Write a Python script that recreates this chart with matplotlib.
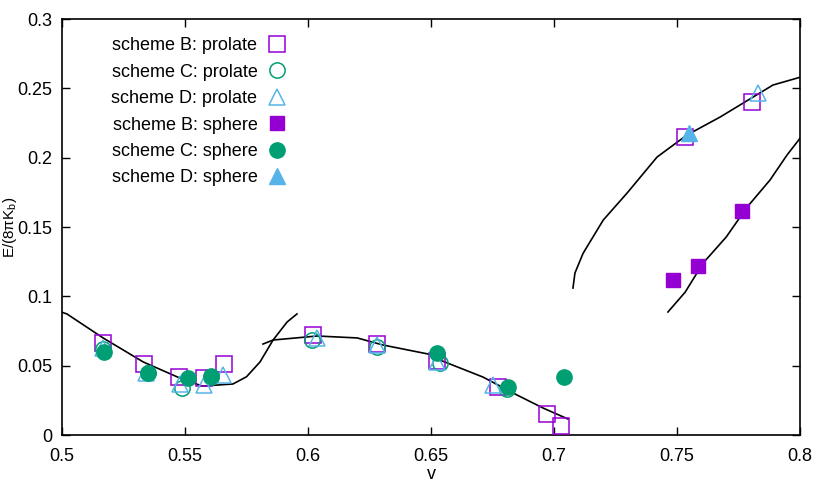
import matplotlib
matplotlib.use('Agg')
import matplotlib.pyplot as plt
from matplotlib.ticker import FormatStrFormatter

plt.rcParams['font.family'] = ['Liberation Sans', 'DejaVu Sans']
plt.rcParams['mathtext.fontset'] = 'custom'
plt.rcParams['mathtext.rm'] = 'Liberation Sans'
plt.rcParams['mathtext.it'] = 'Liberation Sans'

purple = '#9400D3'
green = '#009E73'
blue = '#56B4E9'

# scheme B prolate (open squares)
bp_x = [0.5167, 0.5333, 0.5476, 0.5577, 0.5659, 0.602, 0.628, 0.6524, 0.6772, 0.697, 0.7028, 0.7533, 0.7805]
bp_y = [0.0663, 0.0512, 0.0418, 0.041, 0.0512, 0.072, 0.0656, 0.0534, 0.0346, 0.0151, 0.0065, 0.2149, 0.240]
# scheme C prolate (open circles)
cp_x = [0.5167, 0.535, 0.5488, 0.5606, 0.6016, 0.628, 0.6537, 0.681]
cp_y = [0.062, 0.045, 0.0339, 0.042, 0.0685, 0.0635, 0.0519, 0.0332]
# scheme D prolate (open triangles)
dp_x = [0.5167, 0.534, 0.548, 0.5577, 0.5654, 0.6037, 0.628, 0.6524, 0.6752, 0.783]
dp_y = [0.063, 0.045, 0.0365, 0.036, 0.043, 0.070, 0.065, 0.053, 0.036, 0.2466]
# scheme B sphere (filled squares)
bs_x = [0.7484, 0.7585, 0.7764]
bs_y = [0.1118, 0.1219, 0.1615]
# scheme C sphere (filled circles)
cs_x = [0.5171, 0.535, 0.5512, 0.5606, 0.6524, 0.6813, 0.7041]
cs_y = [0.0599, 0.0447, 0.0411, 0.0425, 0.0591, 0.0346, 0.0418]
# scheme D sphere (filled triangles)
ds_x = [0.7549]
ds_y = [0.2178]

# black curves
c1_x = [0.5, 0.502, 0.5167, 0.533, 0.548, 0.557, 0.5695, 0.575, 0.5805, 0.5858, 0.5915, 0.5955]
c1_y = [0.0885, 0.0873, 0.070, 0.0527, 0.041, 0.0353, 0.0368, 0.042, 0.0527, 0.0685, 0.0815, 0.0873]
c2_x = [0.5817, 0.5858, 0.6037, 0.62, 0.6305, 0.6508, 0.6537, 0.6711, 0.685, 0.6955, 0.7057]
c2_y = [0.0656, 0.0685, 0.0714, 0.070, 0.0649, 0.0577, 0.054, 0.0418, 0.0288, 0.0195, 0.0115]
c3_x = [0.7077, 0.7085, 0.7118, 0.72, 0.7297, 0.7419, 0.754, 0.7675, 0.781, 0.789, 0.8]
c3_y = [0.106, 0.1168, 0.131, 0.155, 0.1745, 0.2005, 0.2163, 0.2293, 0.2438, 0.2524, 0.258]
c4_x = [0.7463, 0.7533, 0.7606, 0.770, 0.7785, 0.7878, 0.7947, 0.8]
c4_y = [0.0887, 0.103, 0.124, 0.1428, 0.1644, 0.1839, 0.2019, 0.214]

fig = plt.figure(figsize=(8.3, 4.98), dpi=100)
ax = fig.add_axes([0.0747, 0.1265, 0.8892, 0.8353])

for cx, cy in [(c1_x, c1_y), (c2_x, c2_y), (c3_x, c3_y), (c4_x, c4_y)]:
    ax.plot(cx, cy, color='black', lw=1.2, zorder=1)

ax.plot(bp_x, bp_y, 's', ms=11, mfc='none', mec=purple, mew=1.1, label='scheme B: prolate', zorder=3)
ax.plot(cp_x, cp_y, 'o', ms=11, mfc='none', mec=green, mew=1.1, label='scheme C: prolate', zorder=3)
ax.plot(dp_x, dp_y, '^', ms=11, mfc='none', mec=blue, mew=1.1, label='scheme D: prolate', zorder=3)
ax.plot(bs_x, bs_y, 's', ms=10.5, color=purple, mec=purple, label='scheme B: sphere', zorder=3)
ax.plot(cs_x, cs_y, 'o', ms=11, color=green, mec=green, label='scheme C: sphere', zorder=3)
ax.plot(ds_x, ds_y, '^', ms=11, color=blue, mec=blue, label='scheme D: sphere', zorder=3)

ax.set_xlim(0.5, 0.8)
ax.set_ylim(0, 0.3)
ax.set_xticks([0.5, 0.55, 0.6, 0.65, 0.7, 0.75, 0.8])
ax.set_yticks([0, 0.05, 0.1, 0.15, 0.2, 0.25, 0.3])
ax.xaxis.set_major_formatter(FormatStrFormatter('%g'))
ax.yaxis.set_major_formatter(FormatStrFormatter('%g'))
ax.tick_params(direction='in', top=True, right=True, length=6, labelsize=13, width=1)
ax.tick_params(axis='x', pad=9)
ax.tick_params(axis='y', pad=7)
for s in ax.spines.values():
    s.set_linewidth(1.2)

ax.set_xlabel('v', fontsize=13, labelpad=1)
ax.set_ylabel('E/(8πK$_\\mathrm{b}$)', fontsize=11)
ax.yaxis.set_label_coords(-0.0585, 0.5)

ax.legend(loc='upper left', bbox_to_anchor=(0.045, 0.995), frameon=False, markerfirst=False,
          fontsize=13, handlelength=1.2, handletextpad=0.5, labelspacing=0.52, numpoints=1)
for t in ax.get_legend().get_texts():
    t.set_ha('right')

fig.savefig('out.png', dpi=100)
